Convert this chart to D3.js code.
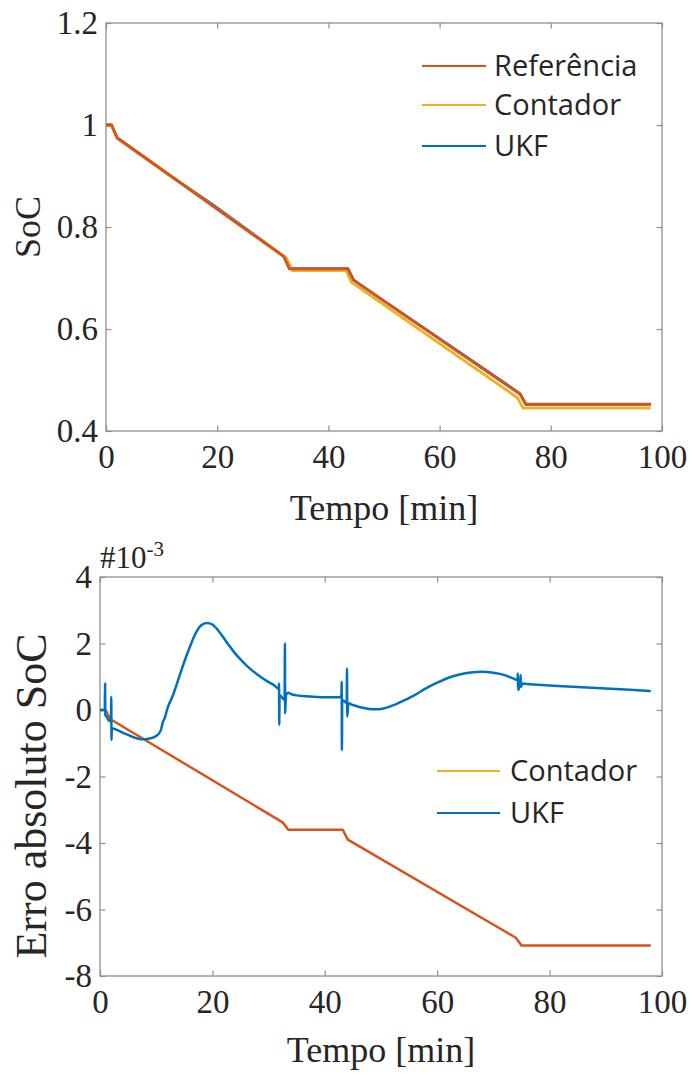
<!DOCTYPE html>
<html>
<head>
<meta charset="utf-8">
<script src="https://cdn.jsdelivr.net/npm/d3@7"></script>
<style>
  html, body { margin: 0; padding: 0; background: #ffffff; }
  svg { display: block; }
</style>
</head>
<body>
<svg id="chart" width="692" height="1075"></svg>
<script>
// ---- State of charge (SoC) over time ----
const timeRef   = [0, 1, 2, 32, 33, 43.5, 44.5, 74.5, 75.5, 98];
const socRef    = [1.0, 1.0, 0.975, 0.742, 0.718, 0.718, 0.696, 0.472, 0.452, 0.452];

const timeCont  = [0, 1, 2, 32.5, 33.5, 43.2, 44.1, 74, 75, 98];
const socCont   = [1.0, 1.0, 0.9747, 0.7386, 0.7144, 0.7144, 0.6921, 0.4652, 0.4449, 0.4449];

const timeUkf   = [0, 1, 2, 12, 19, 27, 32, 33, 43.5, 44.5, 49.5, 68, 74.5, 75.5, 98];
const socUkf    = [1.0, 1.0, 0.9745, 0.8973, 0.8455, 0.7820, 0.7426, 0.7185, 0.7184, 0.6962, 0.6587, 0.5217, 0.4729, 0.4528, 0.4526];

// ---- Absolute SoC error (x 1e-3) ----
const timeErrCont = [0, 1, 1.8, 32.5, 33.5, 43.2, 44.1, 74, 75, 98];
const errCont     = [0, 0, -0.27, -3.38, -3.6, -3.6, -3.9, -6.85, -7.08, -7.08];

const timeErrUkf = [0, 0.85, 0.9, 0.95, 1.2, 1.5, 1.95, 2.0, 2.05, 2.1, 3, 4, 5, 6, 7, 8, 9, 10, 10.8, 11.2, 11.5, 12,
  13, 14, 15, 16, 17, 18, 19, 20, 21, 22, 23, 24, 25, 26, 27, 28, 29, 30, 31, 31.8, 31.85, 31.9, 31.95, 32.5,
  32.85, 32.9, 32.95, 33.1, 33.5, 34, 35, 36, 38, 40, 42, 42.95, 43.0, 43.05, 43.1, 43.6, 43.9, 43.95, 44.0, 44.2,
  45, 46, 47, 48, 49, 50, 51, 52, 53, 54, 56, 58, 60, 62, 64, 66, 68, 70, 72, 73.5, 74.3, 74.35, 74.4, 74.8,
  74.85, 74.9, 75.2, 76, 80, 85, 90, 95, 98];
const errUkf = [0, 0, 0.8, -0.15, -0.2, -0.3, -0.35, 0.4, -0.9, -0.55, -0.6, -0.68, -0.75, -0.82, -0.87, -0.88, -0.85, -0.78, -0.62, -0.35, -0.25, 0.05,
  0.45, 0.95, 1.45, 1.9, 2.3, 2.55, 2.62, 2.57, 2.4, 2.17, 1.93, 1.71, 1.52, 1.35, 1.2, 1.07, 0.95, 0.84, 0.74, 0.64, 0.8, -0.45, 0.45, 0.35,
  0.3, 2.0, -0.1, 0.45, 0.52, 0.48, 0.44, 0.42, 0.4, 0.38, 0.38, 0.4, 0.85, -1.2, 0.3, 0.25, 0.2, 1.25, -0.2, 0.2,
  0.15, 0.1, 0.06, 0.03, 0.02, 0.03, 0.07, 0.13, 0.2, 0.28, 0.45, 0.65, 0.82, 0.97, 1.07, 1.13, 1.15, 1.12, 1.05, 0.95, 0.9, 1.1, 0.6, 0.85,
  1.05, 0.7, 0.8, 0.78, 0.74, 0.69, 0.65, 0.6, 0.57];

// ---- Axis ticks and labels ----
const xTicks      = [0, 20, 40, 60, 80, 100];
const socTicks    = [0.4, 0.6, 0.8, 1, 1.2];
const errTicks    = [-8, -6, -4, -2, 0, 2, 4];
const xLabel      = "Tempo [min]";
const socLabel    = "SoC";
const errLabel    = "Erro absoluto SoC";
const legendTop   = ["Referência", "Contador", "UKF"];
const legendBot   = ["Contador", "UKF"];

const C_REF  = "#D95319";
const C_CONT = "#EDB120";
const C_UKF  = "#0072BD";
const AXIS   = "#8f8f8f";
const TXT    = "#262626";
const SERIF  = "'Liberation Serif', 'Times New Roman', serif";
const SANS   = "'Open Sans', 'Noto Sans', sans-serif";

const svg = d3.select("#chart");

function zip(ts, vs) { return ts.map((t, i) => [t, vs[i]]); }

function drawFrame(g, x, y, xt, yt, yFmt) {
  const [x0, x1] = x.range();
  const [y0, y1] = y.range();
  const tl = 5.5;
  const bottom = g.append("g").attr("transform", `translate(0,${y0})`)
    .call(d3.axisBottom(x).tickValues(xt).tickSize(-tl).tickPadding(14).tickFormat(d3.format("d")));
  const left = g.append("g").attr("transform", `translate(${x0},0)`)
    .call(d3.axisLeft(y).tickValues(yt).tickSize(-tl).tickPadding(8).tickFormat(yFmt));
  const top = g.append("g").attr("transform", `translate(0,${y1})`)
    .call(d3.axisTop(x).tickValues(xt).tickSize(-tl).tickFormat(""));
  const right = g.append("g").attr("transform", `translate(${x1},0)`)
    .call(d3.axisRight(y).tickValues(yt).tickSize(-tl).tickFormat(""));
  [bottom, left, top, right].forEach(a => {
    a.select(".domain").remove();
    a.selectAll(".tick line").attr("stroke", AXIS).attr("stroke-width", 1.2);
    a.selectAll(".tick text").attr("fill", TXT).attr("font-family", SERIF).attr("font-size", 33);
  });
  // box around the plotting area
  g.append("rect").attr("x", x0).attr("y", y1).attr("width", x1 - x0).attr("height", y0 - y1)
    .attr("fill", "none").attr("stroke", AXIS).attr("stroke-width", 1.3);
}

function drawLegend(g, items, colors, lx0, lx1, tx, ys) {
  items.forEach((name, i) => {
    g.append("line").attr("x1", lx0).attr("x2", lx1).attr("y1", ys[i]).attr("y2", ys[i])
      .attr("stroke", colors[i]).attr("stroke-width", 2.2);
    g.append("text").attr("x", tx).attr("y", ys[i]).attr("dy", "0.35em")
      .attr("font-family", SANS).attr("font-size", 29).attr("fill", TXT).text(name);
  });
}

// ================= Top panel: SoC =================
{
  const g = svg.append("g");
  const x = d3.scaleLinear().domain([0, 100]).range([106, 662]);
  const y = d3.scaleLinear().domain([0.4, 1.2]).range([431, 23]);
  const line = d3.line().x(d => x(d[0])).y(d => y(d[1]));

  drawFrame(g, x, y, xTicks, socTicks, d3.format("~g"));

  const series = [
    { t: timeUkf,  v: socUkf,  c: C_UKF },
    { t: timeCont, v: socCont, c: C_CONT },
    { t: timeRef,  v: socRef,  c: C_REF }
  ];
  series.forEach(s => {
    g.append("path").datum(zip(s.t, s.v)).attr("d", line)
      .attr("fill", "none").attr("stroke", s.c).attr("stroke-width", 2.8)
      .attr("stroke-linejoin", "round");
  });

  drawLegend(g, legendTop, [C_REF, C_CONT, C_UKF], 422, 486, 494, [66, 105, 146]);

  g.append("text").attr("x", 384).attr("y", 520).attr("text-anchor", "middle")
    .attr("font-family", SERIF).attr("font-size", 36).attr("fill", TXT).text(xLabel);
  g.append("text").attr("transform", "translate(40,227) rotate(-90)").attr("text-anchor", "middle")
    .attr("font-family", SERIF).attr("font-size", 36).attr("fill", TXT).text(socLabel);
}

// ================= Bottom panel: absolute error =================
{
  const g = svg.append("g");
  const x = d3.scaleLinear().domain([0, 100]).range([100, 662]);
  const y = d3.scaleLinear().domain([-8, 4]).range([976, 577]);
  const line = d3.line().x(d => x(d[0])).y(d => y(d[1]));
  const smooth = d3.line().x(d => x(d[0])).y(d => y(d[1])).curve(d3.curveMonotoneX);

  drawFrame(g, x, y, xTicks, errTicks, d => String(d));

  g.append("path").datum(zip(timeErrCont, errCont)).attr("d", line)
    .attr("fill", "none").attr("stroke", C_REF).attr("stroke-width", 2.5)
    .attr("stroke-linejoin", "round");
  g.append("path").datum(zip(timeErrUkf, errUkf)).attr("d", smooth)
    .attr("fill", "none").attr("stroke", C_UKF).attr("stroke-width", 2.5)
    .attr("stroke-linejoin", "round");

  drawLegend(g, legendBot, [C_CONT, C_UKF], 437, 500, 510, [771, 813]);

  // exponent marker
  const ex = g.append("text").attr("x", 100).attr("y", 568)
    .attr("font-family", SERIF).attr("font-size", 31).attr("fill", TXT);
  ex.append("tspan").text("#10");
  ex.append("tspan").attr("font-size", 21).attr("dy", -12).text("-3");

  g.append("text").attr("x", 381).attr("y", 1062).attr("text-anchor", "middle")
    .attr("font-family", SERIF).attr("font-size", 36).attr("fill", TXT).text(xLabel);
  g.append("text").attr("transform", "translate(46,796) rotate(-90)").attr("text-anchor", "middle")
    .attr("font-family", SERIF).attr("font-size", 44).attr("fill", TXT).text(errLabel);
}
</script>
</body>
</html>
